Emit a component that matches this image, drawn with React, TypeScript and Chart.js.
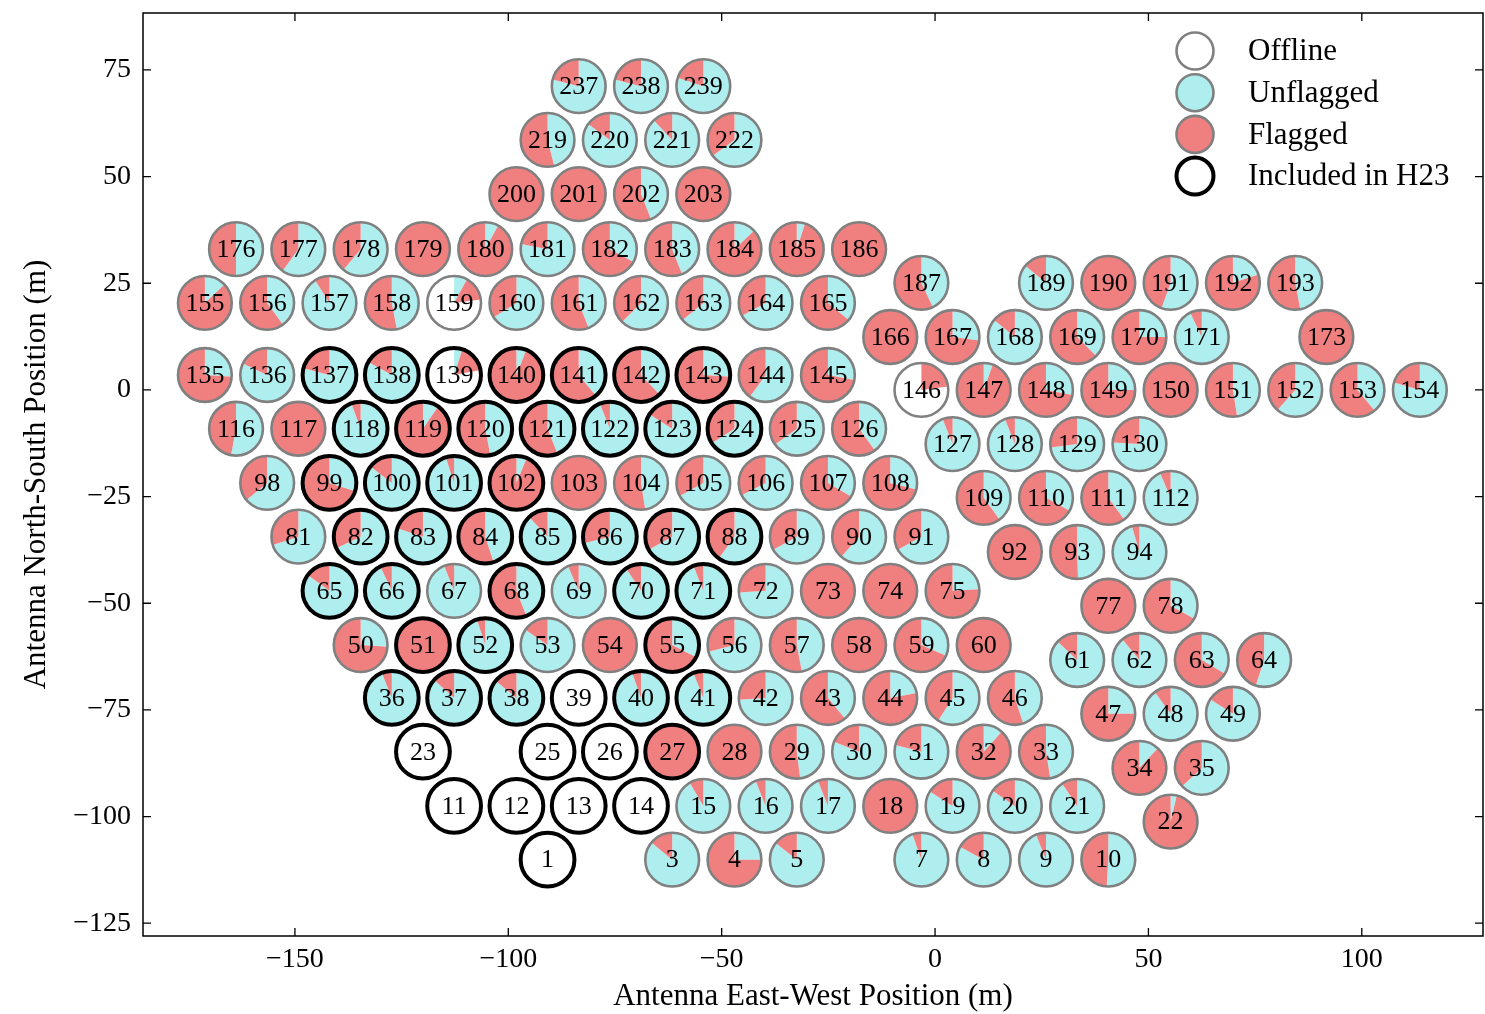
import { useEffect, useRef } from "react";
import { Chart, registerables } from "chart.js";

Chart.register(...registerables);

// ---------------- data ----------------
const ANT_IDS = [
  237, 238, 239,
  219, 220, 221, 222,
  200, 201, 202, 203,
  176, 177, 178, 179, 180, 181, 182, 183, 184, 185, 186,
  155, 156, 157, 158, 159, 160, 161, 162, 163, 164, 165,
  187, 189, 190, 191, 192, 193,
  166, 167, 168, 169, 170, 171, 173,
  135, 136, 137, 138, 139, 140, 141, 142, 143, 144, 145,
  146, 147, 148, 149, 150, 151, 152, 153, 154,
  116, 117, 118, 119, 120, 121, 122, 123, 124, 125, 126,
  127, 128, 129, 130,
  98, 99, 100, 101, 102, 103, 104, 105, 106, 107, 108,
  109, 110, 111, 112,
  81, 82, 83, 84, 85, 86, 87, 88, 89, 90, 91,
  92, 93, 94,
  65, 66, 67, 68, 69, 70, 71, 72, 73, 74, 75,
  77, 78,
  50, 51, 52, 53, 54, 55, 56, 57, 58, 59, 60,
  61, 62, 63, 64,
  36, 37, 38, 39, 40, 41, 42, 43, 44, 45, 46,
  47, 48, 49,
  23, 25, 26, 27, 28, 29, 30, 31, 32, 33,
  34, 35,
  11, 12, 13, 14, 15, 16, 17, 18, 19, 20, 21,
  22,
  1, 3, 4, 5, 7, 8, 9, 10,
];

const ANT_EAST = [
  -83.5, -68.9, -54.3,
  -90.8, -76.2, -61.6, -47.0,
  -98.1, -83.5, -68.9, -54.3,
  -163.8, -149.2, -134.6, -120.0, -105.4, -90.8, -76.2, -61.6, -47.0, -32.4, -17.8,
  -171.1, -156.5, -141.9, -127.3, -112.7, -98.1, -83.5, -68.9, -54.3, -39.7, -25.1,
  -3.2, 26.0, 40.6, 55.2, 69.8, 84.4,
  -10.5, 4.1, 18.7, 33.3, 47.9, 62.5, 91.7,
  -171.1, -156.5, -141.9, -127.3, -112.7, -98.1, -83.5, -68.9, -54.3, -39.7, -25.1,
  -3.2, 11.4, 26.0, 40.6, 55.2, 69.8, 84.4, 99.0, 113.6,
  -163.8, -149.2, -134.6, -120.0, -105.4, -90.8, -76.2, -61.6, -47.0, -32.4, -17.8,
  4.1, 18.7, 33.3, 47.9,
  -156.5, -141.9, -127.3, -112.7, -98.1, -83.5, -68.9, -54.3, -39.7, -25.1, -10.5,
  11.4, 26.0, 40.6, 55.2,
  -149.2, -134.6, -120.0, -105.4, -90.8, -76.2, -61.6, -47.0, -32.4, -17.8, -3.2,
  18.7, 33.3, 47.9,
  -141.9, -127.3, -112.7, -98.1, -83.5, -68.9, -54.3, -39.7, -25.1, -10.5, 4.1,
  40.6, 55.2,
  -134.6, -120.0, -105.4, -90.8, -76.2, -61.6, -47.0, -32.4, -17.8, -3.2, 11.4,
  33.3, 47.9, 62.5, 77.1,
  -127.3, -112.7, -98.1, -83.5, -68.9, -54.3, -39.7, -25.1, -10.5, 4.1, 18.7,
  40.6, 55.2, 69.8,
  -120.0, -90.8, -76.2, -61.6, -47.0, -32.4, -17.8, -3.2, 11.4, 26.0,
  47.9, 62.5,
  -112.7, -98.1, -83.5, -68.9, -54.3, -39.7, -25.1, -10.5, 4.1, 18.7, 33.3,
  55.2,
  -90.8, -61.6, -47.0, -32.4, -3.2, 11.4, 26.0, 40.6,
];

const ANT_NORTH = [
  71.2, 71.2, 71.2,
  58.6, 58.6, 58.6, 58.6,
  45.9, 45.9, 45.9, 45.9,
  33.0, 33.0, 33.0, 33.0, 33.0, 33.0, 33.0, 33.0, 33.0, 33.0, 33.0,
  20.4, 20.4, 20.4, 20.4, 20.4, 20.4, 20.4, 20.4, 20.4, 20.4, 20.4,
  25.1, 25.1, 25.1, 25.1, 25.1, 25.1,
  12.4, 12.4, 12.4, 12.4, 12.4, 12.4, 12.4,
  3.5, 3.5, 3.5, 3.5, 3.5, 3.5, 3.5, 3.5, 3.5, 3.5, 3.5,
  0, 0, 0, 0, 0, 0, 0, 0, 0,
  -9.1, -9.1, -9.1, -9.1, -9.1, -9.1, -9.1, -9.1, -9.1, -9.1, -9.1,
  -12.7, -12.7, -12.7, -12.7,
  -21.8, -21.8, -21.8, -21.8, -21.8, -21.8, -21.8, -21.8, -21.8, -21.8, -21.8,
  -25.3, -25.3, -25.3, -25.3,
  -34.4, -34.4, -34.4, -34.4, -34.4, -34.4, -34.4, -34.4, -34.4, -34.4, -34.4,
  -38.0, -38.0, -38.0,
  -47.1, -47.1, -47.1, -47.1, -47.1, -47.1, -47.1, -47.1, -47.1, -47.1, -47.1,
  -50.6, -50.6,
  -59.8, -59.8, -59.8, -59.8, -59.8, -59.8, -59.8, -59.8, -59.8, -59.8, -59.8,
  -63.3, -63.3, -63.3, -63.3,
  -72.2, -72.2, -72.2, -72.2, -72.2, -72.2, -72.2, -72.2, -72.2, -72.2, -72.2,
  -75.9, -75.9, -75.9,
  -84.8, -84.8, -84.8, -84.8, -84.8, -84.8, -84.8, -84.8, -84.8, -84.8,
  -88.6, -88.6,
  -97.5, -97.5, -97.5, -97.5, -97.5, -97.5, -97.5, -97.5, -97.5, -97.5, -97.5,
  -101.2,
  -110.1, -110.1, -110.1, -110.1, -110.1, -110.1, -110.1, -110.1,
];

// fraction of time unflagged (cyan wedge, clockwise from top)
const FRAC_UNFLAGGED = [
  0.79, 0.79, 0.8,
  0.46, 0.85, 0.88, 0.65,
  0, 0, 0.44, 0,
  0.5, 0.6, 0.61, 0, 0.08, 0.78, 0.33, 0.44, 0.13, 0.05, 0,
  0.13, 0.4, 0.91, 0.47, 0.08, 0.66, 0.44, 0.625, 0.64, 0.67, 0.36,
  0.43, 0.86, 0, 0.555, 0.2, 0.47,
  0, 0.27, 0.86, 0.375, 0.25, 0.93, 0,
  0.26, 0.82, 0.79, 0.83, 0.05, 0.06, 0.39, 0.38, 0.26, 0.6, 0.28,
  0, 0.055, 0.28, 0.25, 0, 0.475, 0.615, 0.39, 0.795,
  0.53, 0, 0.944, 0.096, 0.47, 0.44, 0.94, 0.84, 0.66, 0.65, 0.4,
  0.94, 0.94, 0.73, 0.76,
  0.64, 0.3, 0.854, 0.95, 0.063, 0, 0.475, 0.67, 0.675, 0.335, 0.29,
  0.4, 0.33, 0.4, 0.936,
  0.7, 0.68, 0.8, 0.45, 0.88, 0.71, 0.67, 0.6, 0.67, 0.615, 0.67,
  0, 0.495, 0.955,
  0.85, 0.93, 0.94, 0.44, 0.935, 0.907, 0.94, 0.74, 0, 0, 0.24,
  0, 0.33,
  0.26, 0, 0.95, 0.846, 0, 0.325, 0.71, 0.47, 0, 0.315, 0,
  0.87, 0.89, 0.335, 0.55,
  0.94, 0.867, 0.86, 0, 0.946, 0.94, 0.74, 0.39, 0.22, 0.59, 0.45,
  0.25, 0.9, 0.84,
  0, 0, 0, 0, 0, 0.48, 0.81, 0.79, 0.117, 0.475,
  0.12, 0.63,
  0, 0, 0, 0, 0.916, 0.94, 0.94, 0, 0.84, 0.845, 0.906,
  0.037,
  0, 0.86, 0.25, 0.856, 0.946, 0.83, 0.94, 0.51,
];

// fraction of time flagged (red wedge, following the cyan one)
const FRAC_FLAGGED = [
  0.21, 0.21, 0.2,
  0.54, 0.15, 0.12, 0.35,
  1, 1, 0.56, 1,
  0.5, 0.4, 0.39, 1, 0.92, 0.22, 0.67, 0.56, 0.87, 0.95, 1,
  0.87, 0.6, 0.09, 0.53, 0.15, 0.34, 0.56, 0.375, 0.36, 0.33, 0.64,
  0.57, 0.14, 1, 0.445, 0.8, 0.53,
  1, 0.73, 0.14, 0.625, 0.75, 0.07, 1,
  0.74, 0.18, 0.21, 0.17, 0.17, 0.94, 0.61, 0.62, 0.74, 0.4, 0.72,
  0.23, 0.945, 0.72, 0.75, 1, 0.525, 0.385, 0.61, 0.205,
  0.47, 1, 0.056, 0.904, 0.53, 0.56, 0.06, 0.16, 0.34, 0.35, 0.6,
  0.06, 0.06, 0.27, 0.24,
  0.36, 0.7, 0.146, 0.05, 0.937, 1, 0.525, 0.33, 0.325, 0.665, 0.71,
  0.6, 0.67, 0.6, 0.064,
  0.3, 0.32, 0.2, 0.55, 0.12, 0.29, 0.33, 0.4, 0.33, 0.385, 0.33,
  1, 0.505, 0.045,
  0.15, 0.07, 0.06, 0.56, 0.065, 0.093, 0.06, 0.26, 1, 1, 0.76,
  1, 0.67,
  0.74, 1, 0.05, 0.154, 1, 0.675, 0.29, 0.53, 1, 0.685, 1,
  0.13, 0.11, 0.665, 0.45,
  0.06, 0.133, 0.14, 0, 0.054, 0.06, 0.26, 0.61, 0.78, 0.41, 0.55,
  0.75, 0.1, 0.16,
  0, 0, 0, 1, 1, 0.52, 0.19, 0.21, 0.883, 0.525,
  0.88, 0.37,
  0, 0, 0, 0, 0.084, 0.06, 0.06, 1, 0.16, 0.155, 0.094,
  0.963,
  0, 0.14, 0.75, 0.144, 0.054, 0.17, 0.06, 0.49,
];

const H23_IDS = [
  137, 138, 139, 140, 141, 142, 143,
  118, 119, 120, 121, 122, 123, 124,
  99, 100, 101, 102,
  82, 83, 84, 85, 86, 87, 88,
  65, 66, 68, 70, 71,
  51, 52, 55,
  36, 37, 38, 39, 40, 41,
  23, 25, 26, 27,
  11, 12, 13, 14,
  1,
];

const X_TICKS = [-150, -100, -50, 0, 50, 100];
const Y_TICKS = [75, 50, 25, 0, -25, -50, -75, -100, -125];
const X_MIN = -185.6;
const X_MAX = 128.4;
const Y_MIN = -128.0;
const Y_MAX = 88.35;
const X_TITLE = "Antenna East-West Position (m)";
const Y_TITLE = "Antenna North-South Position (m)";
const LEGEND_LABELS = ["Offline", "Unflagged", "Flagged", "Included in H23"];

// ---------------- styles ----------------
const FONT = "'Liberation Serif', 'Times New Roman', serif";
const COLOR_UNFLAGGED = "#afeeee";
const COLOR_FLAGGED = "#f08080";
const COLOR_OFFLINE = "#ffffff";
const EDGE_GRAY = "#808080";
const EDGE_H23 = "#000000";
const DISH_RADIUS_M = 6.3;

const fmt = (v: number) => (v < 0 ? "\u2212" + Math.abs(v) : String(v));

function drawDish(
  ctx: CanvasRenderingContext2D,
  cx: number,
  cy: number,
  r: number,
  u: number,
  f: number,
  h23: boolean,
  label: string | null
) {
  ctx.beginPath();
  ctx.arc(cx, cy, r, 0, Math.PI * 2);
  ctx.fillStyle = COLOR_OFFLINE;
  ctx.fill();
  let a0 = -Math.PI / 2;
  const wedge = (frac: number, color: string) => {
    if (frac <= 0) return;
    const a1 = a0 + Math.PI * 2 * frac;
    ctx.beginPath();
    ctx.moveTo(cx, cy);
    ctx.arc(cx, cy, r, a0, a1);
    ctx.closePath();
    ctx.fillStyle = color;
    ctx.fill();
    a0 = a1;
  };
  wedge(u, COLOR_UNFLAGGED);
  wedge(f, COLOR_FLAGGED);
  ctx.beginPath();
  ctx.arc(cx, cy, r, 0, Math.PI * 2);
  ctx.lineWidth = h23 ? 4 : 2.6;
  ctx.strokeStyle = h23 ? EDGE_H23 : EDGE_GRAY;
  ctx.stroke();
  if (label) {
    ctx.fillStyle = "#000";
    ctx.font = `26px ${FONT}`;
    ctx.textAlign = "center";
    ctx.textBaseline = "middle";
    ctx.fillText(label, cx, cy + 1);
  }
}

const dishPlugin = {
  id: "dishes",
  afterDatasetsDraw(chart: any) {
    const ctx: CanvasRenderingContext2D = chart.ctx;
    const meta = chart.getDatasetMeta(0);
    const xs = chart.scales.x;
    const ys = chart.scales.y;
    const area = chart.chartArea;
    const r = Math.abs(xs.getPixelForValue(DISH_RADIUS_M) - xs.getPixelForValue(0));
    ctx.save();
    meta.data.forEach((el: any, i: number) => {
      drawDish(
        ctx,
        el.x,
        el.y,
        r,
        FRAC_UNFLAGGED[i],
        FRAC_FLAGGED[i],
        H23_IDS.includes(ANT_IDS[i]),
        String(ANT_IDS[i])
      );
    });

    // frame
    ctx.lineWidth = 1.5;
    ctx.strokeStyle = "#000";
    ctx.strokeRect(area.left, area.top, area.right - area.left, area.bottom - area.top);

    // inward ticks on all sides
    const tl = 8;
    ctx.lineWidth = 1.3;
    ctx.beginPath();
    X_TICKS.forEach((v) => {
      const px = xs.getPixelForValue(v);
      ctx.moveTo(px, area.bottom);
      ctx.lineTo(px, area.bottom - tl);
      ctx.moveTo(px, area.top);
      ctx.lineTo(px, area.top + tl);
    });
    Y_TICKS.forEach((v) => {
      const py = ys.getPixelForValue(v);
      ctx.moveTo(area.left, py);
      ctx.lineTo(area.left + tl, py);
      ctx.moveTo(area.right, py);
      ctx.lineTo(area.right - tl, py);
    });
    ctx.stroke();

    // legend
    const lx = area.right - 288;
    const ly0 = area.top + 38;
    const step = 41.7;
    const styles = [
      { u: 0, f: 0, h: false },
      { u: 1, f: 0, h: false },
      { u: 0, f: 1, h: false },
      { u: 0, f: 0, h: true },
    ];
    LEGEND_LABELS.forEach((lab, k) => {
      const y = ly0 + k * step;
      const s = styles[k];
      ctx.save();
      drawDish(ctx, lx, y, 18.5, s.u, s.f, s.h, null);
      ctx.restore();
      ctx.fillStyle = "#000";
      ctx.font = `31px ${FONT}`;
      ctx.textAlign = "left";
      ctx.textBaseline = "middle";
      ctx.fillText(lab, lx + 53, y + 1);
    });
    ctx.restore();
  },
};

export default function App() {
  const ref = useRef<HTMLCanvasElement | null>(null);
  useEffect(() => {
    if (!ref.current) return;
    const chart = new Chart(ref.current, {
      type: "scatter",
      data: {
        datasets: [
          {
            data: ANT_IDS.map((_, i) => ({ x: ANT_EAST[i], y: ANT_NORTH[i] })),
            pointRadius: 0,
            pointHoverRadius: 0,
          },
        ],
      },
      options: {
        responsive: false,
        animation: false,
        events: [],
        layout: { padding: { top: 13, right: 2, left: 0, bottom: 0 } },
        plugins: { legend: { display: false }, tooltip: { enabled: false } },
        scales: {
          x: {
            type: "linear",
            min: X_MIN,
            max: X_MAX,
            afterBuildTicks: (s: any) => {
              s.ticks = X_TICKS.map((v) => ({ value: v }));
            },
            afterFit: (s: any) => {
              s.height = 78;
              s.paddingLeft = 0;
              s.paddingRight = 0;
            },
            grid: { display: false, drawTicks: false },
            border: { display: false },
            ticks: {
              color: "#000",
              padding: 7,
              maxRotation: 0,
              font: { family: FONT, size: 28 },
              callback: (v: any) => fmt(Number(v)),
            },
            title: {
              display: true,
              text: X_TITLE,
              color: "#000",
              font: { family: FONT, size: 31, lineHeight: 1.0 },
              padding: { top: 0, bottom: 1.5 },
            },
          },
          y: {
            type: "linear",
            min: Y_MIN,
            max: Y_MAX,
            afterBuildTicks: (s: any) => {
              s.ticks = Y_TICKS.map((v) => ({ value: v }));
            },
            afterFit: (s: any) => {
              s.width = 143;
              s.paddingTop = 0;
              s.paddingBottom = 0;
            },
            grid: { display: false, drawTicks: false },
            border: { display: false },
            ticks: {
              color: "#000",
              padding: 12,
              font: { family: FONT, size: 28 },
              callback: (v: any) => fmt(Number(v)),
            },
            title: {
              display: true,
              text: Y_TITLE,
              color: "#000",
              font: { family: FONT, size: 31, lineHeight: 1.0 },
              padding: { top: 21.5, bottom: 0 },
            },
          },
        },
      },
      plugins: [dishPlugin],
    });
    return () => chart.destroy();
  }, []);
  return (
    <canvas
      ref={ref}
      width={1485}
      height={1014}
      style={{ position: "fixed", left: 0, top: 0, display: "block", background: "#fff" }}
    />
  );
}
